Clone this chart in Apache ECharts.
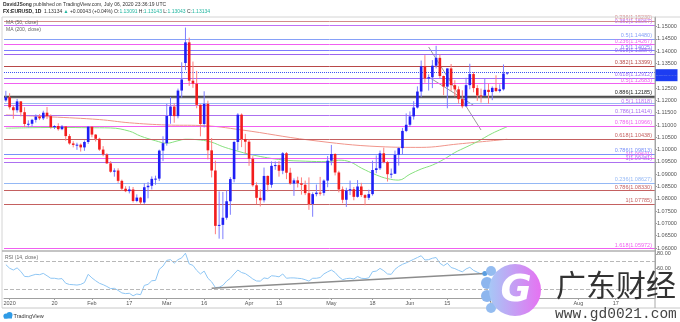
<!DOCTYPE html>
<html><head><meta charset="utf-8">
<script src="https://cdn.jsdelivr.net/npm/echarts@6/dist/echarts.min.js"></script>
<style>html,body{margin:0;padding:0;background:#fff}#chart{width:680px;height:322px}</style>
</head><body><div id="chart"></div>
<script>
// ---------- DATA ----------
// bars: 2019-12-31 .. 2020-07-07 (daily, weekdays, no Jan 1)
const open = [1.1200,1.1213,1.1172,1.1160,1.1196,1.1152,1.1104,1.1105,1.1121,1.1134,1.1127,1.1150,1.1136,1.1091,1.1096,1.1083,1.1094,1.1055,1.1025,1.1019,1.1020,1.1009,1.1031,1.1093,1.1061,1.1044,1.1000,1.0980,1.0944,1.0910,1.0915,1.0873,1.0841,1.0831,1.0838,1.0791,1.0805,1.0785,1.0847,1.0853,1.0881,1.0882,1.0996,1.1026,1.1137,1.1175,1.1136,1.1240,1.1352,1.1436,1.1280,1.1268,1.1182,1.1104,1.1186,1.0997,1.0915,1.0690,1.0694,1.0723,1.0790,1.0880,1.1031,1.1142,1.1043,1.1032,1.0963,1.0855,1.0804,1.0794,1.0893,1.0857,1.0934,1.0937,1.0914,1.0985,1.0906,1.0862,1.0875,1.0863,1.0857,1.0823,1.0779,1.0819,1.0825,1.0824,1.0874,1.0955,1.0982,1.0907,1.0838,1.0796,1.0834,1.0839,1.0808,1.0850,1.0815,1.0804,1.0819,1.0917,1.0924,1.0985,1.0949,1.0900,1.0902,1.0979,1.1006,1.1076,1.1101,1.1135,1.1171,1.1236,1.1339,1.1289,1.1294,1.1341,1.1373,1.1299,1.1256,1.1330,1.1262,1.1245,1.1205,1.1176,1.1262,1.1307,1.1250,1.1220,1.1219,1.1243,1.1234,1.1251,1.1238,1.1245,1.13091];
const high = [1.1239,1.1229,1.1180,1.1206,1.1197,1.1172,1.1119,1.1125,1.1143,1.1144,1.1158,1.1173,1.1143,1.1099,1.1107,1.1100,1.1095,1.1063,1.1034,1.1028,1.1025,1.1037,1.1096,1.1095,1.1063,1.1048,1.1014,1.0985,1.0953,1.0924,1.0924,1.0878,1.0851,1.0851,1.0848,1.0818,1.0808,1.0863,1.0868,1.0891,1.0894,1.1000,1.1054,1.1186,1.1214,1.1188,1.1248,1.1355,1.1496,1.1455,1.1358,1.1320,1.1184,1.1237,1.1199,1.1047,1.0955,1.0830,1.0828,1.0834,1.0888,1.1036,1.1148,1.1147,1.1064,1.1042,1.0973,1.0867,1.0839,1.0927,1.0895,1.0952,1.0952,1.0954,1.0990,1.0990,1.0926,1.0883,1.0890,1.0887,1.0874,1.0887,1.0826,1.0858,1.0889,1.0879,1.0974,1.1019,1.0985,1.0914,1.0850,1.0845,1.0874,1.0848,1.0876,1.0865,1.0819,1.0837,1.0955,1.0976,1.0996,1.1008,1.0953,1.0923,1.0996,1.1009,1.1088,1.1147,1.1155,1.1197,1.1257,1.1362,1.1384,1.1306,1.1364,1.1422,1.1387,1.1301,1.1330,1.1348,1.1282,1.1257,1.1241,1.1292,1.1349,1.1315,1.1262,1.1248,1.1287,1.1268,1.1257,1.1302,1.1265,1.1346,1.13143];
const low = [1.1194,1.1163,1.1125,1.1150,1.1135,1.1092,1.1090,1.1093,1.1110,1.1120,1.1120,1.1124,1.1085,1.1084,1.1077,1.1079,1.1036,1.1020,1.1009,1.0999,1.0992,1.0995,1.1023,1.1050,1.1033,1.0995,1.0973,1.0942,1.0906,1.0890,1.0865,1.0833,1.0827,1.0822,1.0785,1.0786,1.0778,1.0779,1.0802,1.0838,1.0857,1.0872,1.0953,1.1016,1.1105,1.1109,1.1127,1.1211,1.1323,1.1259,1.1251,1.1168,1.1054,1.1090,1.0960,1.0887,1.0656,1.0638,1.0636,1.0715,1.0735,1.0867,1.0997,1.1010,1.0985,1.0934,1.0849,1.0778,1.0769,1.0785,1.0830,1.0845,1.0918,1.0890,1.0900,1.0880,1.0857,1.0812,1.0846,1.0817,1.0815,1.0755,1.0727,1.0810,1.0813,1.0813,1.0847,1.0936,1.0895,1.0826,1.0782,1.0767,1.0815,1.0794,1.0805,1.0807,1.0774,1.0795,1.0813,1.0904,1.0917,1.0944,1.0870,1.0884,1.0901,1.0935,1.0980,1.1071,1.1092,1.1122,1.1167,1.1213,1.1272,1.1240,1.1250,1.1330,1.1290,1.1221,1.1168,1.1239,1.1216,1.1187,1.1168,1.1175,1.1245,1.1233,1.1198,1.1191,1.1218,1.1186,1.1201,1.1234,1.1232,1.1240,1.13043];
const close = [1.1213,1.1172,1.1160,1.1196,1.1152,1.1104,1.1105,1.1121,1.1134,1.1127,1.1150,1.1136,1.1091,1.1096,1.1083,1.1094,1.1055,1.1025,1.1019,1.1020,1.1009,1.1031,1.1093,1.1061,1.1044,1.1000,1.0980,1.0944,1.0910,1.0915,1.0873,1.0841,1.0831,1.0838,1.0791,1.0805,1.0785,1.0847,1.0853,1.0881,1.0882,1.0996,1.1026,1.1137,1.1175,1.1136,1.1240,1.1285,1.1436,1.1280,1.1268,1.1182,1.1104,1.1186,1.0997,1.0915,1.0690,1.0694,1.0723,1.0790,1.0880,1.1031,1.1142,1.1043,1.1032,1.0963,1.0855,1.0804,1.0794,1.0893,1.0857,1.0934,1.0937,1.0914,1.0985,1.0906,1.0862,1.0875,1.0863,1.0857,1.0823,1.0779,1.0819,1.0825,1.0824,1.0874,1.0955,1.0982,1.0907,1.0838,1.0796,1.0834,1.0839,1.0808,1.0850,1.0815,1.0804,1.0819,1.0917,1.0924,1.0985,1.0949,1.0900,1.0902,1.0979,1.1006,1.1076,1.1101,1.1135,1.1171,1.1236,1.1339,1.1289,1.1294,1.1341,1.1373,1.1299,1.1256,1.1330,1.1262,1.1245,1.1205,1.1176,1.1262,1.1307,1.1250,1.1220,1.1219,1.1243,1.1234,1.1251,1.1238,1.1245,1.1309,1.13134];

// moving averages: [bar index, value]
const ma50 = [[0,1.1087],[7,1.1089],[15,1.1090],[22,1.1089],[28,1.1088],[33,1.1075],[36,1.1055],[40,1.1036],[43,1.1026],[46,1.1036],[48,1.1042],[52,1.1039],[55,1.1030],[58,1.1012],[61,1.0998],[66,1.0978],[74,1.0958],[80,1.0953],[86,1.0951],[89,1.0957],[92,1.0950],[95,1.0925],[99,1.0897],[102,1.0882],[105,1.0876],[108,1.0900],[111,1.0921],[114,1.0937],[117,1.0960],[120,1.0988],[123,1.1010],[126,1.1032],[130,1.1066],[134,1.1093]];
const ma200 = [[0,1.1141],[12,1.1133],[25,1.1122],[33,1.1109],[43,1.1100],[52,1.1098],[63,1.1080],[81,1.1039],[100,1.1012],[111,1.1009],[121,1.1023],[134,1.1042]];

const rsi = [65,60,57.5,60.5,55.5,48.5,48.2,50,51.5,51,
52.8,49.5,46,46,45,45.5,39,37.3,37,36.5,
37.4,40,51.5,46.5,42.5,39,37,34.5,31.5,32,
29,25.5,24.5,25,21.5,24,23,36,37.5,42.5,
43,58.5,63,71,72,67,72,74.5,81,66,
64,57,52,56,46,41,33,33.5,36,42,
46,52,57.5,54,52.5,49,45,42.2,42,46.5,
45.5,49.5,49,48,52,46,46.5,46.5,46,45.5,
44,42,46,46,47,52,55,57.5,54,48,
44,45.5,46,45,48.5,46,45.5,46.5,55.2,56,
59.8,56.5,52,51.5,58.5,62.5,65.5,67.5,70,72.5,
75,77.5,71.5,72,74,75,67,63.5,67,61,
59.5,57,55,59,61.3,57,54.5,52,53.8,53,
54.5,53.5,54.5,61,61.5];

// Fibonacci levels
const fibRatios = ['0.236','0.382','0.5','0.236','0.5','0.618','0.382','0.618','0.5','0.886','','0.5','','0.786','0.786','0.618','0.786','1','1','0.236','0.786','1','1.618'];
const fibValues = [1.15230,1.15067,1.14480,1.14267,1.14025,1.13884,1.13399,1.12912,1.12683,1.12185,1.12120,1.11818,1.11890,1.11414,1.10966,1.10438,1.09813,1.09641,1.09481,1.08627,1.08330,1.07785,1.05972];
const fibColors = ['#d48a8a','#c070f5','#86a0f8','#f060f0','#7c7cff','#9c64f0','#b84848','#a070f8','#f060f0','#444444','#666666','#c070f5','#9ab8f5','#ac70f0','#f060f0','#c46060','#7890f8','#f060f0','#ac70f0','#94b8f5','#c46060','#c46060','#f060f0'];

// trend lines [[bar, value],[bar, value]]
const priceTrend1 = [[113,1.14171],[127,1.10797]];
const priceTrend2 = [[113,1.12951],[125,1.11800]];
const rsiTrend = [[55,32],[128,52.8]];
const lastPrice = 1.13134;

const priceTicks = [1.06,1.065,1.07,1.075,1.08,1.085,1.09,1.095,1.10,1.105,1.11,1.115,1.12,1.125,1.13,1.135,1.14,1.145,1.15];
const rsiTicks = [60,80];
const tickDates = ['2020-01-02','2020-01-20','2020-02-03','2020-02-17','2020-03-02','2020-03-16','2020-04-01','2020-04-13','2020-05-01','2020-05-18','2020-06-01','2020-06-15','2020-07-01','2020-07-13','2020-08-03','2020-08-17'];
const tickLabels = ['2020','20','Feb','17','Mar','16','Apr','13','May','18','Jun','15','Jul','13','Aug','17'];

// categories: weekdays from 2019-12-31 (no Jan 1), extended into the future
const N = 174;
const categories = [];
{ let d = new Date(Date.UTC(2019,11,31));
  while (categories.length < N) {
    const dow = d.getUTCDay(); const iso = d.toISOString().slice(0,10);
    if (dow !== 0 && dow !== 6 && iso !== '2020-01-01') categories.push(iso);
    d.setUTCDate(d.getUTCDate()+1);
  } }

// ---------- CHART ----------
const tickMap = {}; tickDates.forEach((d,i)=>tickMap[d]=tickLabels[i]);
const candleData = open.map((o,i)=>[i, o, close[i], low[i], high[i]]);
const FONT = 'Liberation Sans, Arial, sans-serif';

function renderCandle(params, api) {
  const x = api.value(0), o = api.value(1), c = api.value(2), l = api.value(3), h = api.value(4);
  const pO = api.coord([x,o]), pC = api.coord([x,c]), pL = api.coord([x,l]), pH = api.coord([x,h]);
  const w = api.size([1,0])[0]*0.7;
  const up = c >= o;
  const top = Math.min(pO[1], pC[1]);
  const hh = Math.max(Math.abs(pO[1]-pC[1]), 1);
  return {type:'group', children:[
    {type:'line', shape:{x1:pH[0],y1:pH[1],x2:pL[0],y2:pL[1]}, style:{stroke: up?'#7d7dff':'#ff7d7d', lineWidth:1}},
    {type:'rect', shape:{x:pO[0]-w/2, y:top, width:w, height:hh}, style:{fill: up?'#1f1ff5':'#f21d1d'}}
  ]};
}

const fibLines = fibValues.map((v,i)=>({
  yAxis: v,
  lineStyle: {color: fibColors[i], width: (fibRatios[i]==='0.886'||i===10)?1.3:1, type:'solid'},
  label: fibRatios[i] ? {show:true, position:'insideEndTop', formatter: fibRatios[i]+'('+v.toFixed(5)+')', color: fibColors[i]==='#444444'?'#222':fibColors[i], fontSize:5.5, fontFamily:FONT, distance:[3,0.5]} : {show:false}
}));
fibLines.push({yAxis:lastPrice, lineStyle:{color:'#3a55f5', width:1, type:'dotted'}, label:{show:false}});

const option = {
  animation:false,
  grid:[{left:4,right:25,top:17,height:234},{left:4,right:25,top:251,height:47}],
  xAxis:[
    {type:'category', gridIndex:0, data:categories, boundaryGap:true, show:false},
    {type:'category', gridIndex:1, data:categories, boundaryGap:true,
     axisLine:{lineStyle:{color:'#a0a0a0'}},
     axisTick:{show:true, alignWithLabel:true, length:2, interval:(i,v)=>v in tickMap, lineStyle:{color:'#a0a0a0'}},
     axisLabel:{interval:(i,v)=>v in tickMap, formatter:v=>tickMap[v]||'', fontSize:5.5, color:'#555', margin:2, fontFamily:FONT},
     splitLine:{show:false}}
  ],
  yAxis:[
    {type:'value', gridIndex:0, position:'right', min:1.05878, max:1.15390,
     axisLine:{show:true, lineStyle:{color:'#a0a0a0'}},
     axisTick:{show:true, length:2, customValues:priceTicks, lineStyle:{color:'#a0a0a0'}},
     axisLabel:{customValues:priceTicks, formatter:v=>v.toFixed(5), fontSize:5.5, color:'#555', margin:2, fontFamily:FONT},
     splitLine:{show:false}},
    {type:'value', gridIndex:1, position:'right', min:18.4, max:84.1,
     axisLine:{show:true, lineStyle:{color:'#a0a0a0'}},
     axisTick:{show:true, length:2, customValues:rsiTicks, lineStyle:{color:'#a0a0a0'}},
     axisLabel:{customValues:rsiTicks, formatter:v=>v.toFixed(2), fontSize:5.5, color:'#555', margin:2, fontFamily:FONT},
     splitLine:{show:false}}
  ],
  series:[
    {type:'line', name:'MA200', xAxisIndex:0, yAxisIndex:0, data:ma200, smooth:0.4, showSymbol:false,
     lineStyle:{color:'#f0948a', width:1}, z:3,
     markLine:{silent:true, symbol:['none','none'], animation:false, precision:6,
       data:[
         [{coord:priceTrend1[0]},{coord:priceTrend1[1]}],
         [{coord:priceTrend2[0]},{coord:priceTrend2[1]}]
       ],
       lineStyle:{color:'#9a9a9a', width:1, type:'solid'}, label:{show:false}}},
    {type:'line', name:'MA50', xAxisIndex:0, yAxisIndex:0, data:ma50, smooth:0.4, showSymbol:false,
     lineStyle:{color:'#86e07e', width:1}, z:3,
     markLine:{silent:true, symbol:['none','none'], animation:false, precision:6, data:fibLines}},
    {type:'custom', name:'EURUSD', xAxisIndex:0, yAxisIndex:0, renderItem:renderCandle,
     encode:{x:0, y:[1,2,3,4]}, data:candleData, z:5},
    {type:'line', name:'RSI', xAxisIndex:1, yAxisIndex:1, data:rsi, showSymbol:false,
     lineStyle:{color:'#8ec6f4', width:1}, z:3,
     markLine:{silent:true, symbol:['none','none'], animation:false, precision:6,
       data:[
         {yAxis:70, lineStyle:{color:'#b8b8b8', type:'dashed', width:1}},
         {yAxis:30, lineStyle:{color:'#b8b8b8', type:'dashed', width:1}},
         [{coord:rsiTrend[0], lineStyle:{color:'#8c8c8c', width:1.5, type:'solid'}},{coord:rsiTrend[1]}]
       ], label:{show:false}},
     markPoint:{silent:true, animation:false, symbol:'circle', symbolSize:5,
       itemStyle:{color:'#5a9ee0'}, label:{show:false},
       data:[{coord:rsiTrend[1]}]}}
  ]
};

const chart = echarts.init(document.getElementById('chart'), null, {renderer:'canvas', width:680, height:322});
chart.setOption(option);

const py = chart.convertToPixel({yAxisIndex:0}, lastPrice);
const T = (x,y,text,extra)=>Object.assign({type:'text', x, y, z:50, style:Object.assign({text, fill:'#333', fontSize:5, fontFamily:FONT, textAlign:'left', align:'left', textVerticalAlign:'middle', verticalAlign:'middle'}, extra||{})});
const L = (x1,y1,x2,y2,c,w)=>({type:'line', z:40, shape:{x1,y1,x2,y2}, style:{stroke:c, lineWidth:w||1}});
const grad = new echarts.graphic.LinearGradient(0,0,1,0,[{offset:0,color:'#a6c8f6'},{offset:1,color:'#e672f2'}]);
const graphics = [
  L(2,17,680,17,'#d4d4d4'), L(2,17,2,308,'#d4d4d4'), L(2,308,680,308,'#c8c8c8'),
  L(2,251,655,251,'#b0b0b0',1.5), L(655,17,655,308,'#a8a8a8'),
  T(3,5,'{b|DavidJSong} published on TradingView.com, July 06, 2020 23:36:19 UTC', {rich:{b:{fontWeight:'bold', fontSize:5, fontFamily:FONT, fill:'#333'}}}),
  T(3,11.5,'{b|FX:EURUSD, 1D}  1.13134 {g|▲} +0.00043 (+0.04%) O:{v|1.13091} H:{v|1.13143} L:{v|1.13043} C:{v|1.13134}', {rich:{b:{fontWeight:'bold', fontSize:5, fontFamily:FONT, fill:'#222'}, g:{fill:'#1fb59f', fontSize:5}, v:{fill:'#1fb59f', fontSize:5, fontFamily:FONT}}}),
  T(6,22.8,'MA (50, close)', {fill:'#666'}),
  T(6,29.5,'MA (200, close)', {fill:'#666'}),
  T(5,257.5,'RSI (14, close)', {fill:'#666'}),
  {type:'rect', z:60, shape:{x:655.5, y:py-3.3, width:22, height:6}, style:{fill:'#1d3df2'}},
  T(666.5,py-0.2,'1.13134',{fill:'#fff', fontSize:5, textAlign:'center', align:'center'}),
  {type:'rect', z:60, shape:{x:655.5, y:py+2.7, width:22, height:6}, style:{fill:'#1d3df2'}},
  T(666.5,py+5.8,'21:23:44',{fill:'#fff', fontSize:5, textAlign:'center', align:'center'}),
  // TradingView footer
  {type:'circle', z:50, shape:{cx:6, cy:316, r:2.6}, style:{fill:'#2f9be6'}},
  {type:'circle', z:50, shape:{cx:9.5, cy:315, r:3}, style:{fill:'#2f9be6'}},
  {type:'rect', z:50, shape:{x:4, y:315.5, width:8, height:3}, style:{fill:'#2f9be6'}},
  T(13.5,316.5,'TradingView',{fontSize:5.5, fill:'#333'}),
  // watermark
  {type:'circle', z:90, shape:{cx:491, cy:271, r:5}, style:{fill:'#94bcf0'}},
  {type:'circle', z:90, shape:{cx:487, cy:283, r:6}, style:{fill:'#8db6ee'}},
  {type:'circle', z:90, shape:{cx:487, cy:296, r:6}, style:{fill:'#8db6ee'}},
  {type:'circle', z:90, shape:{cx:491, cy:308, r:5}, style:{fill:'#94bcf0'}},
  {type:'circle', z:91, shape:{cx:515, cy:290, r:26}, style:{fill:grad}},
  T(516,291,'G',{fill:'#fff', fontSize:38, fontWeight:'bold', fontStyle:'italic', fontFamily:'DejaVu Sans', textAlign:'center', align:'center'}),
  T(556,285,'广东财经',{fill:'#333', fontSize:30, fontFamily:'Noto Sans CJK SC'}),
  T(555,314,'www.gd0021.com',{fill:'#444', fontSize:14.5, fontFamily:'Liberation Mono'})
];
const nG = graphics.length;
graphics[nG-1].z=95; graphics[nG-2].z=95; graphics[nG-3].z=95;
chart.setOption({graphic:graphics});
</script></body></html>
